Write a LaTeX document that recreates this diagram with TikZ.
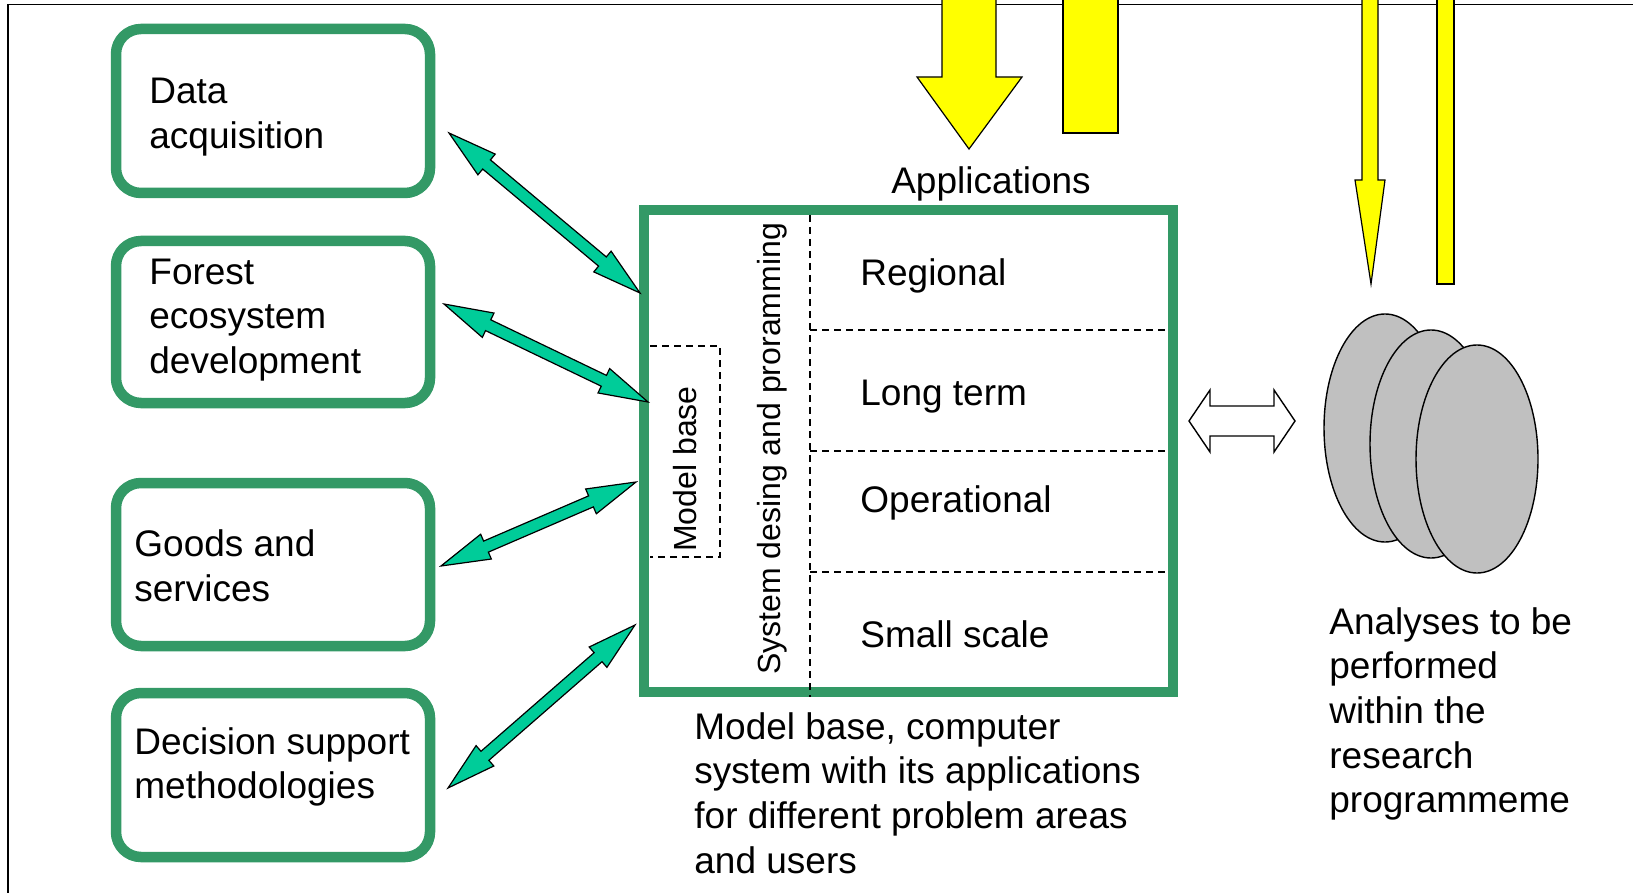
\documentclass[tikz,border=0pt]{standalone}
\usepackage{fontspec}
\setmainfont{Liberation Sans}
\usetikzlibrary{calc}
\definecolor{boxgreen}{HTML}{339966}
\definecolor{arrgreen}{HTML}{00CC99}
\definecolor{ylw}{HTML}{FFFF00}
\definecolor{ellgray}{HTML}{C0C0C0}
\newcommand{\gdarrow}[2]{%
  \path ($(#1)!24.5pt!(#2)$) coordinate (pa) ($(#2)!24.5pt!(#1)$) coordinate (pb);
  \draw[garrow] (#1) -- ($(pa)!6.75pt!90:(#2)$) -- ($(pa)!3pt!90:(#2)$)
     -- ($(pb)!3pt!-90:(#1)$) -- ($(pb)!6.75pt!-90:(#1)$) -- (#2)
     -- ($(pb)!6.75pt!90:(#1)$) -- ($(pb)!3pt!90:(#1)$)
     -- ($(pa)!3pt!-90:(#2)$) -- ($(pa)!6.75pt!-90:(#2)$) -- cycle;}
\begin{document}
\begin{tikzpicture}[x=0.5pt,y=-0.5pt,
  gbox/.style={draw=boxgreen, line width=5.25pt, rounded corners=12.5pt, fill=white, inner sep=0pt},
  lbl/.style={font=\fontsize{18.5}{22.3}\selectfont, align=left, inner sep=0pt, anchor=west},
  rlbl/.style={font=\fontsize{16}{19}\selectfont, inner sep=0pt, rotate=90},
  dsh/.style={line width=0.6pt, dash pattern=on 3.5pt off 2.5pt},
  garrow/.style={fill=arrgreen, draw=black, line width=0.6pt, line join=miter},
  yarrow/.style={fill=ylw, draw=black, line width=0.6pt},
  ell/.style={fill=ellgray, draw=black, line width=0.7pt}]
\useasboundingbox (0,0) rectangle (1633,893);
\fill[white] (0,0) rectangle (1633,893);
% frame
\draw[line width=0.8pt] (8,893) -- (8,4.5) -- (1633,4.5);
% left boxes
\node[gbox, minimum width=157pt, minimum height=82pt] (b1) at (273,111) {};
\node[gbox, minimum width=157pt, minimum height=81pt] (b2) at (273,322) {};
\node[gbox, minimum width=157pt, minimum height=81.5pt] (b3) at (273,564.5) {};
\node[gbox, minimum width=157pt, minimum height=82pt] (b4) at (273,775) {};
\node[lbl] (t1) at (149,117) {Data\\acquisition};
\node[lbl] (t2) at (149,320) {Forest\\ecosystem\\development};
\node[lbl] (t3) at (134,566) {Goods and\\services};
\node[lbl] (t4) at (134,767) {Decision support\\methodologies};
% main box
\node[draw=boxgreen, line width=5pt, minimum width=264.5pt, minimum height=241pt, inner sep=0pt] (mb) at (908.5,451) {};
\draw[dsh] (810,215) -- (810,697);
\draw[dsh] (810,330) -- (1168,330);
\draw[dsh] (810,451) -- (1168,451);
\draw[dsh] (810,572) -- (1168,572);
\draw[dsh] (650,346) -- (720,346) -- (720,557) -- (650,557);
\node[rlbl] (mbase) at (685,469) {Model base};
\node[rlbl] (sysd) at (772,449) {System desing and proramming};
\node[lbl] (reg) at (860,276) {Regional};
\node[lbl] (lt) at (860,397) {Long term};
\node[lbl] (op) at (860,503) {Operational};
\node[lbl] (ss) at (860,634) {Small scale};
\node[lbl, anchor=center] (app) at (991,184) {Applications};
\node[lbl] (mbtxt) at (694,793) {Model base, computer\\system with its applications\\for different problem areas\\and users};
\node[lbl] (antxt) at (1329,714) {Analyses to be\\performed\\within the\\research\\programmeme};
% green double arrows
\coordinate (a1s) at (449,133); \coordinate (a1e) at (640,293);
\coordinate (a2s) at (444,304); \coordinate (a2e) at (648,402);
\coordinate (a3s) at (441,566); \coordinate (a3e) at (636,482);
\coordinate (a4s) at (448,788); \coordinate (a4e) at (635,625);
\gdarrow{a1s}{a1e}
\gdarrow{a2s}{a2e}
\gdarrow{a3s}{a3e}
\gdarrow{a4s}{a4e}
% yellow arrows
\draw[yarrow] (942,0) -- (942,77) -- (917,77) -- (969,149) -- (1022,77) -- (996,77) -- (996,0);
\draw[yarrow] (1063,0) -- (1063,133) -- (1118,133) -- (1118,0);
\draw[yarrow] (1362,0) -- (1362,180) -- (1355,180) -- (1371,284) -- (1385,180) -- (1378,180) -- (1378,0);
\draw[yarrow] (1437,0) -- (1437,284) -- (1454,284) -- (1454,0);
% hollow double arrow
\draw[fill=white, line width=0.7pt] (1189,421) -- (1210,390) -- (1210,406) -- (1274,406) -- (1274,390) -- (1295,421) -- (1274,452) -- (1274,436) -- (1210,436) -- (1210,452) -- cycle;
% ellipses
\draw[ell] (1385,428) ellipse [x radius=30.5pt, y radius=57pt];
\draw[ell] (1431,444) ellipse [x radius=30.5pt, y radius=57pt];
\draw[ell] (1477,459) ellipse [x radius=30.5pt, y radius=57pt];
\end{tikzpicture}
\end{document}
